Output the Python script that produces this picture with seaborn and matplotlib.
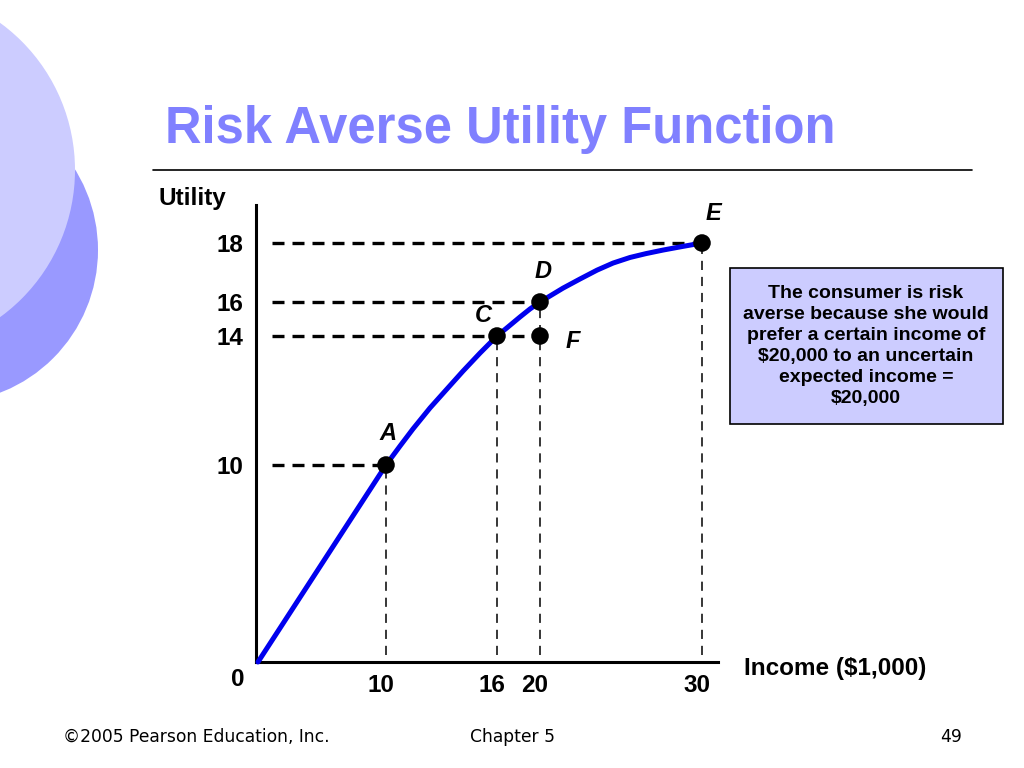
import numpy as np
import matplotlib
matplotlib.use("Agg")
import matplotlib.pyplot as plt
import seaborn as sns
from matplotlib.patches import Circle, Rectangle
from matplotlib.transforms import ScaledTranslation

# data (income in $1,000, utility)
income = [0, 10, 10.76, 11.46, 12.38, 13.3, 14.16, 15.08, 16, 17.02, 18.14, 19.07, 20,
          21.42, 22.47, 23.52, 24.51, 25.56, 26.54, 27.59, 28.77, 30]
utility = [0, 10, 10.59, 11.12, 11.77, 12.36, 12.91, 13.47, 14, 14.53, 15.12, 15.59, 16,
           16.47, 16.78, 17.08, 17.32, 17.51, 17.64, 17.76, 17.88, 18]

point_names = ['A', 'C', 'D', 'E', 'F']
point_income = [10, 16, 20, 30, 20]
point_utility = [10, 14, 16, 18, 14]

x_ticks = [10, 16, 20, 30]
y_ticks = [10, 14, 16, 18]

box_text = ("The consumer is risk\naverse because she would\nprefer a certain income of\n"
            "\\$20,000 to an uncertain\nexpected income =\n\\$20,000")

# the slide's axes are schematic (not to scale): piecewise spacing, in pixels
x_knots, x_pix = [0, 10, 16, 20, 30], [258, 386, 497, 540, 702]
y_knots, y_pix = [0, 10, 14, 16, 18], [106, 303, 432, 466, 525]


def piecewise(src, dst):
    src = np.asarray(src, float)
    dst = np.asarray(dst, float)
    lo = (dst[1] - dst[0]) / (src[1] - src[0])
    hi = (dst[-1] - dst[-2]) / (src[-1] - src[-2])

    def f(v):
        v = np.asarray(v, float)
        out = np.interp(v, src, dst)
        out = np.where(v < src[0], dst[0] + (v - src[0]) * lo, out)
        out = np.where(v > src[-1], dst[-1] + (v - src[-1]) * hi, out)
        return out
    return f


fx, ix = piecewise(x_knots, x_pix), piecewise(x_pix, x_knots)
fy, iy = piecewise(y_knots, y_pix), piecewise(y_pix, y_knots)

sns.set_style('white')
plt.rcParams['font.family'] = ['Liberation Sans', 'DejaVu Sans']
plt.rcParams['text.color'] = 'black'
plt.rcParams['xtick.color'] = 'black'
plt.rcParams['ytick.color'] = 'black'
plt.rcParams['axes.labelcolor'] = 'black'

fig = plt.figure(figsize=(10.24, 7.68), dpi=100)

# slide background (pixel coordinates)
bg = fig.add_axes([0, 0, 1, 1])
bg.set_xlim(0, 1024)
bg.set_ylim(768, 0)
bg.axis('off')
bg.add_patch(Circle((-55, 250), 153, color='#9999ff', lw=0))
bg.add_patch(Circle((-107, 170), 182, color='#ccccff', lw=0))
bg.text(165, 129, 'Risk Averse Utility Function', fontsize=36.5, fontweight='bold',
        color='#8080ff', ha='left', va='center')
bg.plot([153, 972], [170, 170], color='black', lw=1.2)
bg.text(63, 737, '©2005 Pearson Education, Inc.', fontsize=12.3, family='DejaVu Sans',
        ha='left', va='center')
bg.text(512, 737, 'Chapter 5', fontsize=12.3, family='DejaVu Sans', ha='center', va='center')
bg.text(951, 737, '49', fontsize=12.3, family='DejaVu Sans', ha='center', va='center')
bg.text(192, 198, 'Utility', fontsize=17.5, fontweight='bold', ha='center', va='center')
bg.text(835, 668, 'Income (\\$1,000)', fontsize=17.5, fontweight='bold', ha='center', va='center')
bg.text(238, 680, '0', fontsize=17.5, fontweight='bold', ha='center', va='center')
bg.add_patch(Rectangle((730, 268), 273, 156, facecolor='#ccccff', edgecolor='black', lw=1.2))
bg.text(866, 346, box_text, fontsize=14, fontweight='bold', ha='center', va='center',
        multialignment='center', linespacing=1.3)

# main chart axes
ax = fig.add_axes([256 / 1024, 106 / 768, 462 / 1024, 457 / 768])
ax.set_facecolor('none')
ax.set_xscale('function', functions=(fx, ix))
ax.set_yscale('function', functions=(fy, iy))
ax.set_xlim(float(ix(256)), float(ix(718)))
ax.set_ylim(0, float(iy(563)))

# dashed guides
x0 = float(ix(272))
y0 = float(iy(113))
for yv in sorted(set(point_utility)):
    xr = max(x for x, y in zip(point_income, point_utility) if y == yv)
    ax.hlines(yv, x0, xr, colors='black', lw=2.4, linestyles=[(0, (3.6, 2.4))], zorder=1)
for xv in sorted(set(point_income)):
    yt = max(y for x, y in zip(point_income, point_utility) if x == xv)
    ax.vlines(xv, y0, yt, colors='black', lw=1.1, linestyles=[(0, (6, 4.5))], zorder=1)

sns.lineplot(x=income, y=utility, sort=False, ax=ax, color='#0000ee', lw=3.6,
             zorder=3, clip_on=False)
for ln in ax.get_lines():
    ln.set_solid_joinstyle('round')
    ln.set_solid_capstyle('round')
sns.scatterplot(x=point_income, y=point_utility, ax=ax, color='black', s=160,
                edgecolor='none', zorder=5, clip_on=False)

offsets = {'A': (2, 31), 'C': (-14, 21), 'D': (3, 30), 'E': (11, 30), 'F': (33, -6)}
for n, x, y in zip(point_names, point_income, point_utility):
    ax.annotate(n, (x, y), xytext=offsets[n], textcoords='offset pixels', ha='center',
                va='center', fontsize=17, fontweight='bold', fontstyle='italic')

ax.set_xticks(x_ticks, labels=[str(v) for v in x_ticks])
ax.set_yticks(y_ticks, labels=[str(v) for v in y_ticks])
ax.minorticks_off()
ax.tick_params(axis='x', length=0, pad=9, labelsize=17.5)
ax.tick_params(axis='y', length=0, pad=9, labelsize=17.5)
for lbl in ax.get_xticklabels():
    lbl.set_fontweight('bold')
    lbl.set_transform(lbl.get_transform() + ScaledTranslation(-0.05, 0, fig.dpi_scale_trans))
for lbl in ax.get_yticklabels():
    lbl.set_fontweight('bold')

for s in ['top', 'right']:
    ax.spines[s].set_visible(False)
for s in ['left', 'bottom']:
    ax.spines[s].set_color('black')
    ax.spines[s].set_linewidth(2.2)

fig.savefig('out.png', dpi=100)
